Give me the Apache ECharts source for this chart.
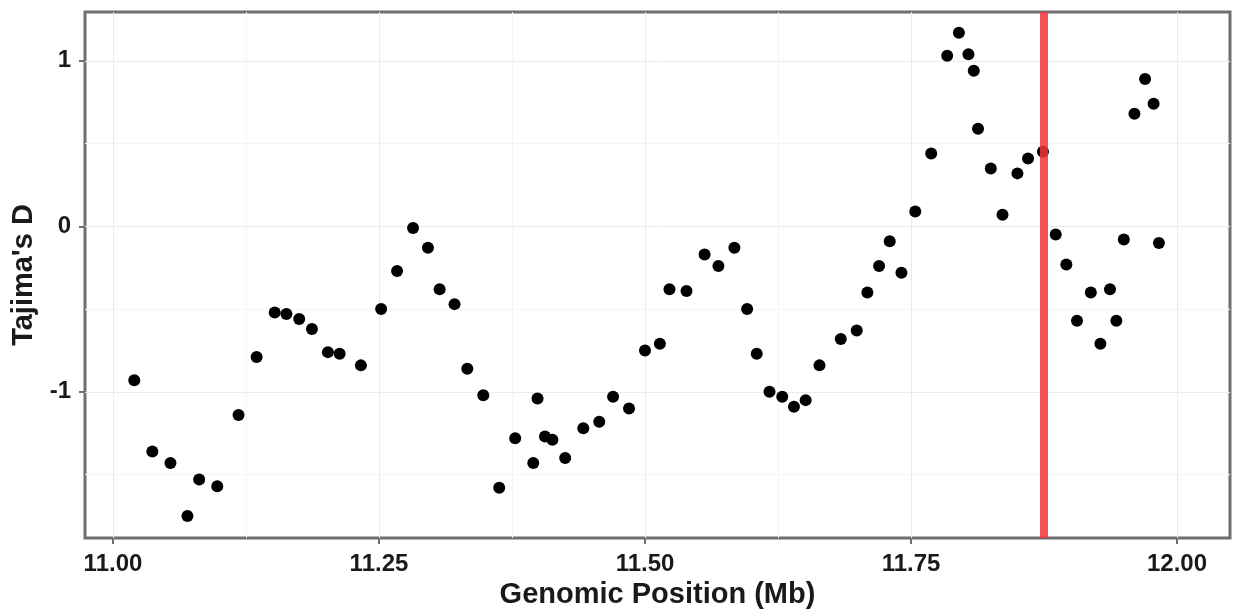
<!DOCTYPE html>
<html>
<head>
<meta charset="utf-8">
<title>Tajima's D</title>
<script src="https://cdn.jsdelivr.net/npm/echarts@6/dist/echarts.min.js"></script>
<style>
    html, body { margin: 0; padding: 0; background: #fff; }
    #chart { width: 1235px; height: 609px; }
</style>
</head>
<body>
<div id="chart"></div>
<script>
// 窗口位置 (Mb)
const positions = [
    11.020, 11.037, 11.054, 11.070, 11.081, 11.098, 11.118, 11.135, 11.152, 11.163,
    11.175, 11.187, 11.202, 11.213, 11.233, 11.252, 11.267, 11.282, 11.296, 11.307,
    11.321, 11.333, 11.348, 11.363, 11.378, 11.395, 11.399, 11.406, 11.413, 11.425,
    11.442, 11.457, 11.470, 11.485, 11.500, 11.514, 11.523, 11.539, 11.556, 11.569,
    11.584, 11.596, 11.605, 11.617, 11.629, 11.640, 11.651, 11.664, 11.684, 11.699,
    11.709, 11.720, 11.730, 11.741, 11.754, 11.769, 11.784, 11.795, 11.804, 11.809,
    11.813, 11.825, 11.836, 11.850, 11.860, 11.874, 11.886, 11.896, 11.906, 11.919,
    11.928, 11.937, 11.943, 11.950, 11.960, 11.970, 11.978, 11.983
];

// Tajima's D 值
const tajimaD = [
    -0.93, -1.36, -1.43, -1.75, -1.53, -1.57, -1.14, -0.79, -0.52, -0.53,
    -0.56, -0.62, -0.76, -0.77, -0.84, -0.50, -0.27, -0.01, -0.13, -0.38,
    -0.47, -0.86, -1.02, -1.58, -1.28, -1.43, -1.04, -1.27, -1.29, -1.40,
    -1.22, -1.18, -1.03, -1.10, -0.75, -0.71, -0.38, -0.39, -0.17, -0.24,
    -0.13, -0.50, -0.77, -1.00, -1.03, -1.09, -1.05, -0.84, -0.68, -0.63,
    -0.40, -0.24, -0.09, -0.28, 0.09, 0.44, 1.03, 1.17, 1.04, 0.94,
    0.59, 0.35, 0.07, 0.32, 0.41, 0.45, -0.05, -0.23, -0.57, -0.40,
    -0.71, -0.38, -0.57, -0.08, 0.68, 0.89, 0.74, -0.10
];

// 刻度
const xTicks = [11.00, 11.25, 11.50, 11.75, 12.00];
const yTicks = [-1, 0, 1];
const xGrid = [11.000, 11.125, 11.250, 11.375, 11.500, 11.625, 11.750, 11.875, 12.000];
const yGrid = [-1.5, -1.0, -0.5, 0.0, 0.5, 1.0];

// 标记位置 (红线)
const markerPosition = 11.875;

const X_MIN = 10.9737, X_MAX = 12.0498;
const Y_MIN = -1.883, Y_MAX = 1.295;

const FONT = '"Liberation Sans", Arial, sans-serif';
const TEXT_COLOR = '#1a1a1a';
const FRAME_COLOR = '#6f6f6f';

const chart = echarts.init(document.getElementById('chart'));

const points = positions.map((x, i) => [x, tajimaD[i]]);

// 只画网格线的隐藏轴
function gridAxis(values, colors, extra) {
    return Object.assign({
        type: 'value',
        axisLine: { show: false, onZero: false },
        axisTick: { show: false, customValues: values },
        axisLabel: { show: false },
        splitLine: { show: true, lineStyle: { color: colors, width: 1 } }
    }, extra);
}

const option = {
    animation: false,
    backgroundColor: '#fff',
    grid: {
        left: 85,
        right: 5,
        top: 12,
        bottom: 71,
        outerBoundsMode: 'none',
        show: true,
        backgroundColor: '#fff',
        borderColor: FRAME_COLOR,
        borderWidth: 3
    },
    xAxis: [
        {
            type: 'value',
            min: X_MIN,
            max: X_MAX,
            position: 'bottom',
            name: 'Genomic Position (Mb)',
            nameLocation: 'middle',
            nameGap: 32,
            nameTextStyle: { fontFamily: FONT, fontWeight: 'bold', fontSize: 29, color: TEXT_COLOR },
            axisLine: { show: false, onZero: false },
            axisTick: { show: true, length: 6, customValues: xTicks, lineStyle: { color: FRAME_COLOR, width: 2 } },
            axisLabel: {
                customValues: xTicks,
                margin: 14,
                fontFamily: FONT,
                fontWeight: 'bold',
                fontSize: 24,
                color: TEXT_COLOR,
                formatter: v => v.toFixed(2)
            },
            splitLine: { show: false }
        },
        gridAxis(xGrid, ['#ebebeb', '#f5f5f5'], { min: X_MIN, max: X_MAX, position: 'bottom' })
    ],
    yAxis: [
        {
            type: 'value',
            min: Y_MIN,
            max: Y_MAX,
            position: 'left',
            name: "Tajima's D",
            nameLocation: 'middle',
            nameGap: 44,
            nameTextStyle: { fontFamily: FONT, fontWeight: 'bold', fontSize: 29, color: TEXT_COLOR },
            axisLine: { show: false, onZero: false },
            axisTick: { show: true, length: 6, customValues: yTicks, lineStyle: { color: FRAME_COLOR, width: 2 } },
            axisLabel: {
                customValues: yTicks,
                margin: 14,
                fontFamily: FONT,
                fontWeight: 'bold',
                fontSize: 24,
                color: TEXT_COLOR
            },
            splitLine: { show: false }
        },
        gridAxis(yGrid, ['#f5f5f5', '#ebebeb'], { min: Y_MIN, max: Y_MAX, position: 'left' })
    ],
    series: [
        {
            name: "Tajima's D",
            type: 'scatter',
            symbol: 'circle',
            symbolSize: 12,
            itemStyle: { color: '#000', opacity: 1 },
            data: points,
            z: 3
        },
        {
            // 红色竖线，画在点的上面
            name: 'marker',
            type: 'line',
            symbol: 'none',
            silent: true,
            z: 5,
            lineStyle: { color: '#f2323c', opacity: 0.85, width: 8 },
            data: [[markerPosition, Y_MIN], [markerPosition, Y_MAX]]
        }
    ]
};

chart.setOption(option);
window.addEventListener('resize', () => chart.resize());
</script>
</body>
</html>
